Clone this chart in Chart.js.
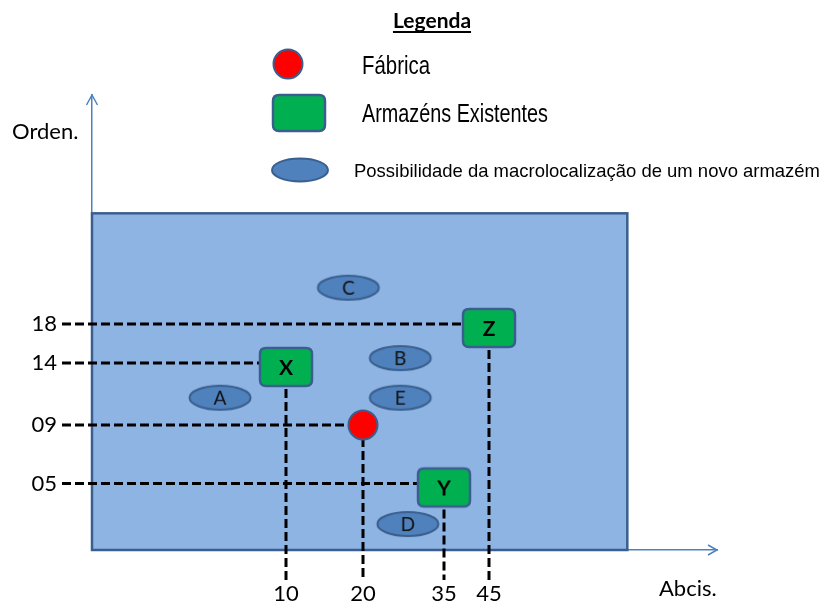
<!DOCTYPE html>
<html>
<head>
<meta charset="utf-8">
<title>Macrolocalização</title>
<script src="https://cdn.jsdelivr.net/npm/chart.js@4.4.0/dist/chart.umd.min.js"></script>
<style>
  html, body { margin: 0; padding: 0; background: #fff; }
  #wrap { width: 824px; height: 604px; }
</style>
</head>
<body>
<div id="wrap"><canvas id="chart" width="824" height="604"></canvas></div>
<script>
// data
const xTicks = [10, 20, 35, 45];
const yTicks = [5, 9, 14, 18];

const factoryX = [20];
const factoryY = [9];

const warehouseNames = ['X', 'Y', 'Z'];
const warehouseX = [10, 35, 45];
const warehouseY = [14, 5, 18];

const siteNames = ['A', 'B', 'C', 'D', 'E'];
const siteX = [6.6, 26.9, 18.1, 28.3, 26.9];
const siteY = [11.2, 14.5, 19.9, 1.95, 11.2];

// study region (blue box)
const areaX = [0, 54.1];
const areaY = [0, 23.8];

const legendTexts = ['Fábrica', 'Armazéns Existentes', 'Possibilidade da macrolocalização de um novo armazém'];

// the drawing is not to scale, so the axes are piecewise linear
// [value, fraction of axis length]
const knots = {
  x: [[0, 0], [10, 0.3104], [20, 0.4336], [35, 0.5632], [45, 0.6352], [60, 1]],
  y: [[0, 0], [5, 0.1462], [9, 0.2747], [14, 0.411], [18, 0.4967], [30, 1]]
};

function lerpKnots(pts, v, from, to) {
  for (let i = 1; i < pts.length; i++) {
    if (v <= pts[i][from] || i === pts.length - 1) {
      const a = pts[i - 1], b = pts[i];
      return a[to] + (v - a[from]) * (b[to] - a[to]) / (b[from] - a[from]);
    }
  }
}

class DiagramScale extends Chart.LinearScale {
  getPixelForValue(value) {
    return this.getPixelForDecimal(lerpKnots(knots[this.axis], value, 0, 1));
  }
  getValueForPixel(pixel) {
    return lerpKnots(knots[this.axis], this.getDecimalForPixel(pixel), 1, 0);
  }
}
DiagramScale.id = 'diagram';
DiagramScale.defaults = {};
Chart.register(DiagramScale);

const BORDER = '#3A5F8E';

function roundRectPath(ctx, x, y, w, h, r) {
  ctx.beginPath();
  ctx.moveTo(x + r, y);
  ctx.lineTo(x + w - r, y);
  ctx.quadraticCurveTo(x + w, y, x + w, y + r);
  ctx.lineTo(x + w, y + h - r);
  ctx.quadraticCurveTo(x + w, y + h, x + w - r, y + h);
  ctx.lineTo(x + r, y + h);
  ctx.quadraticCurveTo(x, y + h, x, y + h - r);
  ctx.lineTo(x, y + r);
  ctx.quadraticCurveTo(x, y, x + r, y);
  ctx.closePath();
}

function drawBox(ctx, cx, cy, w, h) {
  roundRectPath(ctx, cx - w / 2, cy - h / 2, w, h, 6);
  ctx.fillStyle = '#00B050';
  ctx.fill();
  ctx.lineWidth = 2.5;
  ctx.strokeStyle = BORDER;
  ctx.stroke();
}

function drawOval(ctx, cx, cy, rx, ry) {
  ctx.beginPath();
  ctx.ellipse(cx, cy, rx, ry, 0, 0, Math.PI * 2);
  ctx.fillStyle = '#4F81BD';
  ctx.fill();
  ctx.lineWidth = 2;
  ctx.strokeStyle = BORDER;
  ctx.stroke();
}

// point style images
function boxMarker(letter) {
  const c = document.createElement('canvas');
  c.width = 60; c.height = 54;
  const ctx = c.getContext('2d');
  drawBox(ctx, 30, 31, 52, 38);
  ctx.fillStyle = '#000';
  ctx.font = 'bold 21px Lato';
  ctx.textAlign = 'center';
  ctx.textBaseline = 'middle';
  ctx.fillText(letter, 30, 32);
  return c;
}

function ovalMarker(letter) {
  const c = document.createElement('canvas');
  c.width = 68; c.height = 32;
  const ctx = c.getContext('2d');
  drawOval(ctx, 34, 16, 30.5, 12);
  ctx.fillStyle = '#111';
  ctx.font = '19px Lato';
  ctx.textAlign = 'center';
  ctx.textBaseline = 'middle';
  ctx.fillText(letter, 34, 17);
  return c;
}

const toPoints = (xs, ys) => xs.map((x, i) => ({ x: x, y: ys[i] }));

const diagramPlugin = {
  id: 'diagram',
  beforeDatasetsDraw(chart) {
    const ctx = chart.ctx;
    const xs = chart.scales.x, ys = chart.scales.y;

    // blue region
    const x0 = xs.getPixelForValue(areaX[0]), x1 = xs.getPixelForValue(areaX[1]);
    const y0 = ys.getPixelForValue(areaY[0]), y1 = ys.getPixelForValue(areaY[1]);
    ctx.save();
    ctx.fillStyle = '#8EB4E3';
    ctx.fillRect(x0, y1, x1 - x0, y0 - y1);
    ctx.lineWidth = 2.5;
    ctx.strokeStyle = BORDER;
    ctx.strokeRect(x0, y1, x1 - x0, y0 - y1);

    // dashed guides from the ticks to factory and warehouses
    ctx.strokeStyle = '#000';
    ctx.lineWidth = 3;
    ctx.setLineDash([9, 4]);
    const guides = toPoints(factoryX, factoryY).concat(toPoints(warehouseX, warehouseY));
    guides.forEach(p => {
      const px = xs.getPixelForValue(p.x), py = ys.getPixelForValue(p.y);
      ctx.beginPath();
      ctx.moveTo(ys.right - 30, py);
      ctx.lineTo(px, py);
      ctx.moveTo(px, py);
      ctx.lineTo(px, xs.top + 30);
      ctx.stroke();
    });
    ctx.restore();
  },
  afterDraw(chart) {
    const ctx = chart.ctx;
    const area = chart.chartArea;
    ctx.save();

    // arrow heads
    ctx.strokeStyle = '#4F81BD';
    ctx.lineWidth = 1.5;
    ctx.beginPath();
    ctx.moveTo(area.left - 5.5, area.top + 10);
    ctx.lineTo(area.left, area.top);
    ctx.lineTo(area.left + 5.5, area.top + 10);
    ctx.moveTo(area.right - 9, area.bottom - 5);
    ctx.lineTo(area.right, area.bottom);
    ctx.lineTo(area.right - 9, area.bottom + 5);
    ctx.stroke();

    // axis names
    ctx.fillStyle = '#000';
    ctx.font = '22px Lato';
    ctx.textAlign = 'left';
    ctx.textBaseline = 'alphabetic';
    ctx.fillText('Orden.', 12, 139);
    ctx.fillText('Abcis.', 659, 596);

    // legend
    ctx.font = 'bold 21px Lato';
    ctx.textAlign = 'center';
    ctx.fillText('Legenda', 432, 28);
    const tw = ctx.measureText('Legenda').width;
    ctx.fillRect(432 - tw / 2, 31, tw, 2);

    ctx.beginPath();
    ctx.arc(288, 64, 14.5, 0, Math.PI * 2);
    ctx.fillStyle = '#FF0000';
    ctx.fill();
    ctx.lineWidth = 2;
    ctx.strokeStyle = BORDER;
    ctx.stroke();
    drawBox(ctx, 299, 113, 52, 36);
    drawOval(ctx, 300, 170, 28, 11.5);

    ctx.fillStyle = '#000';
    ctx.textAlign = 'left';
    ctx.font = '25px "Liberation Sans"';
    ctx.fillText(legendTexts[0], 362, 74, 68);
    ctx.fillText(legendTexts[1], 362, 122, 186);
    ctx.font = '18.5px "Liberation Sans"';
    ctx.fillText(legendTexts[2], 354, 177, 466);
    ctx.restore();
  }
};

const tickFont = { family: 'Lato', size: 22 };

new Chart(document.getElementById('chart'), {
  type: 'scatter',
  data: {
    datasets: [
      {
        label: legendTexts[0],
        data: toPoints(factoryX, factoryY),
        pointStyle: 'circle',
        pointRadius: 14.5,
        backgroundColor: '#FF0000',
        borderColor: BORDER,
        borderWidth: 2
      },
      {
        label: legendTexts[1],
        data: toPoints(warehouseX, warehouseY),
        pointStyle: warehouseNames.map(boxMarker),
        pointRadius: 20
      },
      {
        label: legendTexts[2],
        data: toPoints(siteX, siteY),
        pointStyle: siteNames.map(ovalMarker),
        pointRadius: 20
      }
    ]
  },
  options: {
    responsive: false,
    animation: false,
    events: [],
    layout: { padding: { top: 95, right: 107, left: 0, bottom: 0 } },
    plugins: {
      legend: { display: false },
      tooltip: { enabled: false }
    },
    scales: {
      x: {
        type: 'diagram',
        min: 0,
        max: 60,
        grid: { display: false, drawTicks: false },
        border: { display: true, color: '#4F81BD', width: 1.5 },
        afterBuildTicks: s => { s.ticks = xTicks.map(v => ({ value: v })); },
        afterFit: s => { s.height = 54; },
        ticks: {
          autoSkip: false,
          maxRotation: 0,
          padding: 31,
          color: '#000',
          font: tickFont,
          callback: v => String(v)
        }
      },
      y: {
        type: 'diagram',
        min: 0,
        max: 30,
        grid: { display: false, drawTicks: false },
        border: { display: true, color: '#4F81BD', width: 1.5 },
        afterBuildTicks: s => { s.ticks = yTicks.map(v => ({ value: v })); },
        afterFit: s => { s.width = 92; },
        ticks: {
          autoSkip: false,
          padding: 35,
          color: '#000',
          font: tickFont,
          callback: v => (v < 10 ? '0' : '') + v
        }
      }
    }
  },
  plugins: [diagramPlugin]
});
</script>
</body>
</html>
